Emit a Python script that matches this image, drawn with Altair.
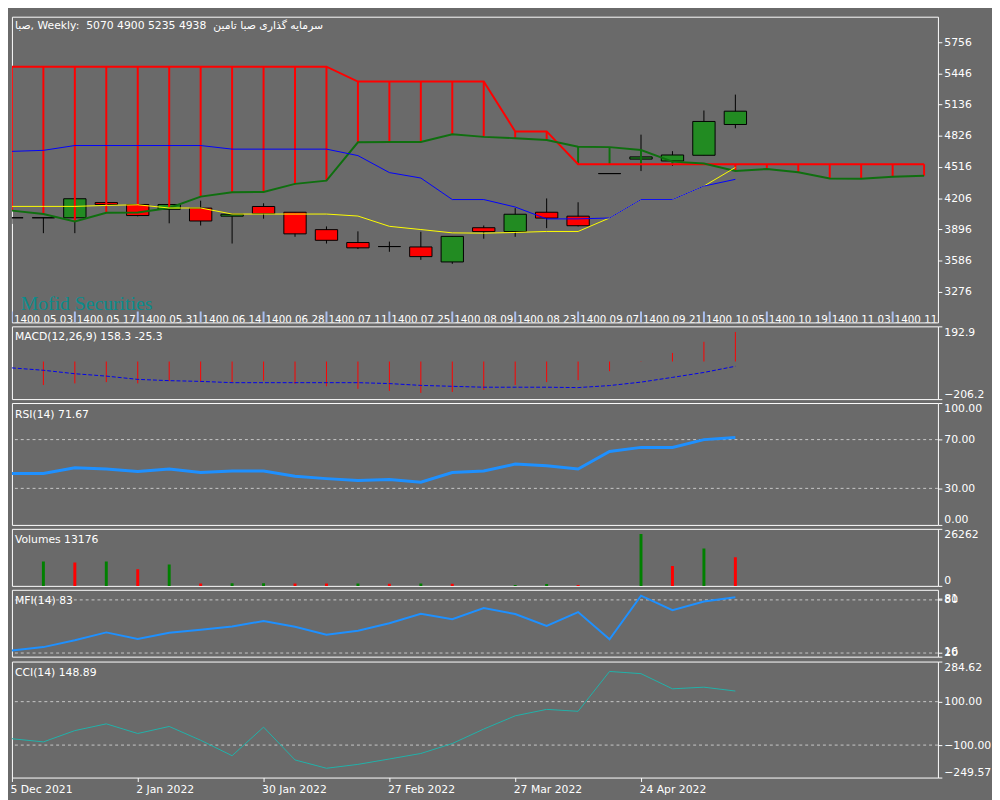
import altair as alt
import pandas as pd

# ---------------- data ----------------
bar_index = list(range(24))
opens  = [4011, 4011, 4011, 4162, 4143, 4095, 4107, 4027, 4123, 4066, 3893, 3765, 3725, 3721, 3572, 3912, 3874, 4066, 4027, 4450, 4594, 4575, 4632, 4938]
highs  = [4011, 4011, 4200, 4162, 4143, 4143, 4181, 4046, 4155, 4066, 3925, 3876, 3774, 3872, 3826, 3934, 4107, 4203, 4165, 4450, 4837, 4673, 5077, 5235]
lows   = [3950, 3858, 3858, 4143, 4025, 3956, 3934, 3755, 4002, 3822, 3755, 3700, 3673, 3593, 3553, 3803, 3822, 3908, 3925, 4450, 4475, 4527, 4632, 4900]
closes = [4011, 4011, 4200, 4143, 4033, 4143, 3979, 4046, 4052, 3851, 3787, 3712, 3725, 3625, 3826, 3874, 4046, 4008, 3932, 4450, 4616, 4635, 4968, 5070]
tenkan = [4124, 4124, 4124, 4134, 4140, 4108, 4108, 4048, 4048, 4048, 4048, 4028, 3926, 3894, 3861, 3858, 3865, 3875, 3875, 4009, 4192, 4192, 4326, 4511]
kijun  = [4671, 4681, 4729, 4729, 4729, 4729, 4729, 4693, 4693, 4693, 4693, 4629, 4460, 4406, 4192, 4192, 4118, 4000, 4000, 4009, 4192, 4192, 4326, 4393]

cloud_index = list(range(30))
span_a = [4082, 4048, 3974, 4060, 4063, 4108, 4221, 4264, 4268, 4348, 4380, 4761, 4764, 4764, 4840,
          4815, 4802, 4783, 4716, 4713, 4684, 4569, 4550, 4476, 4495, 4463, 4402, 4398, 4418, 4428]
span_b = [5512, 5512, 5512, 5512, 5512, 5512, 5512, 5512, 5512, 5512, 5512, 5365, 5365, 5365, 5365,
          5365, 4869, 4869, 4543, 4543, 4543, 4543, 4543, 4543, 4543, 4543, 4543, 4543, 4543, 4543]

hist_index = list(range(1, 24))
macd_hist   = [-129, -120, -113, -120, -107, -111, -114, -105, -123, -136, -150, -161, -172, -167, -156, -129, -113, -102, -53, -2, 47, 108, 162]
macd_signal = [-35, -48, -67, -80, -98, -105, -109, -116, -116, -116, -116, -116, -121, -131, -136, -141, -141, -141, -143, -132, -113, -87, -60, -26]
rsi = [42.2, 42.2, 46.9, 45.9, 43.8, 45.9, 43.0, 44.3, 44.3, 40.0, 38.0, 36.4, 37.2, 35.0, 43.0, 44.3, 49.9, 48.5, 45.9, 60.2, 63.6, 63.6, 70.0, 71.67]
volumes = [0, 11250, 10800, 11250, 7650, 9900, 1100, 1200, 1250, 1150, 1050, 1150, 1000, 1100, 1000, 0, 450, 900, 450, 0, 23850, 9150, 17250, 13176]
mfi = [22.9, 26.7, 34.4, 43.3, 35.9, 42.9, 46.2, 50.0, 56.2, 49.6, 40.7, 45.1, 53.7, 64.4, 58.1, 70.7, 64.0, 50.7, 66.2, 35.6, 84.8, 68.4, 78.1, 83.0]
cci = [-70.7, -85.3, -33.3, -2.2, -46.7, -14.2, -77.8, -148.9, -17.3, -168.4, -206.7, -188.9, -164.0, -138.7, -92.9, -26.2, 34.7, 64.4, 55.6, 239.1, 228.9, 159.1, 166.7, 148.89]

price_ticks = [3276, 3586, 3896, 4206, 4516, 4826, 5136, 5446, 5756]
price_domain = [2971, 6009]
macd_domain = [-206.2, 192.9]
rsi_levels = [30, 70]
rsi_ticks = [0, 30, 70, 100]
vol_domain = [0, 26262]
mfi_domain = [15.9, 91.4]
mfi_levels = [20, 80]
mfi_ticks = [16, 20, 80, 81]
cci_domain = [-249.57, 284.62]
cci_levels = [-100, 100]
cci_ticks = [-249.57, -100, 100, 284.62]

shamsi_pos = [0, 2, 4, 6, 8, 10, 12, 14, 16, 18, 20, 22, 24, 26, 28]
shamsi_labels = ["1400 05 03", "1400 05 17", "1400 05 31", "1400 06 14", "1400 06 28", "1400 07 11",
                 "1400 07 25", "1400 08 09", "1400 08 23", "1400 09 07", "1400 09 21", "1400 10 05",
                 "1400 10 19", "1400 11 03", "1400 11 17"]
date_pos = [0, 4, 8, 12, 16, 20]
date_labels = ["5 Dec 2021", "2 Jan 2022", "30 Jan 2022", "27 Feb 2022", "27 Mar 2022", "24 Apr 2022"]

NB = "\u00a0"
title_main = "صبا, Weekly:" + NB + " 5070 4900 5235 4938" + NB + " سرمایه گذاری صبا تامین"
title_macd = "MACD(12,26,9) 158.3 -25.3"
title_rsi = "RSI(14) 71.67"
title_vol = "Volumes 13176"
title_mfi = "MFI(14) 83"
title_cci = "CCI(14) 148.89"
watermark = "Mofid Securities"

# ---------------- tables ----------------
bars = pd.DataFrame({"k": bar_index, "open": opens, "high": highs, "low": lows, "close": closes,
                     "tenkan": tenkan, "kijun": kijun, "signal": macd_signal,
                     "rsi": rsi, "vol": volumes, "mfi": mfi, "cci": cci})
bars["up"] = bars["vol"] > bars["vol"].shift(1).fillna(0)
hist = pd.DataFrame({"k": hist_index, "hist": macd_hist})
cloud = pd.DataFrame({"k": cloud_index, "spanA": span_a, "spanB": span_b})
shamsi = pd.DataFrame({"k": shamsi_pos, "t": shamsi_labels})

# ---------------- style ----------------
BG = "#6a6a6a"
FONT = "DejaVu Sans"
RED = "#ff0000"
CANDLE_GREEN = "#228b22"
CLOUD_GREEN = "#0f6f0f"
VOL_GREEN = "#008000"
LINE_BLUE = "#1e90ff"
LEVEL = "#c8c8c8"
W = 942
XMAX = 29.44
H_MAIN = 311
xs = alt.Scale(domain=[0, XMAX], nice=False, zero=False)


def X(field="k", axis=None):
    return alt.X(f"{field}:Q", scale=xs, axis=axis, title=None)


def raxis(values, fmt):
    return alt.Axis(orient="right", values=values, format=fmt, title=None, labelFlush=True,
                    labelOverlap=False, labelBound=False)


def title_layer(text, y=11, size=11):
    return alt.Chart(pd.DataFrame({"t": [text]})).mark_text(
        align="left", baseline="middle", color="white", font=FONT, fontSize=size
    ).encode(x=alt.value(3), y=alt.value(y), text="t:N")


def levels_layer(levels, scale, axis):
    return alt.Chart(pd.DataFrame({"lv": levels})).mark_rule(
        color=LEVEL, strokeDash=[3, 3], strokeWidth=1
    ).encode(y=alt.Y("lv:Q", scale=scale, axis=axis, title=None))


# ---------------- main panel ----------------
ps = alt.Scale(domain=price_domain, nice=False, zero=False)
pax = alt.Axis(orient="right", values=price_ticks, format="d", title=None, labelFlush=False,
               labelOverlap=False)

base = alt.Chart(bars)
wicks = base.mark_rule(color="black", strokeWidth=1, clip=True).encode(
    x=X(), y=alt.Y("low:Q", scale=ps, axis=pax, title=None), y2="high:Q")
bodies = base.transform_calculate(
    x0="datum.k - 0.355", x1="datum.k + 0.355"
).mark_rect(stroke="black", strokeWidth=1, clip=True).encode(
    x=X("x0"), x2="x1:Q",
    y=alt.Y("open:Q", scale=ps, axis=pax, title=None), y2="close:Q",
    fill=alt.condition("datum.close > datum.open", alt.value(CANDLE_GREEN), alt.value(RED)))
hatch = alt.Chart(cloud).mark_rule(strokeWidth=2, clip=True).encode(
    x=X(), y=alt.Y("spanA:Q", scale=ps, axis=pax, title=None), y2="spanB:Q",
    color=alt.condition("datum.spanB >= datum.spanA", alt.value(RED), alt.value(CLOUD_GREEN)))
lineB = alt.Chart(cloud).mark_line(color=RED, strokeWidth=2, clip=True).encode(
    x=X(), y=alt.Y("spanB:Q", scale=ps, axis=pax, title=None))
lineA = alt.Chart(cloud).mark_line(color=CLOUD_GREEN, strokeWidth=2, clip=True).encode(
    x=X(), y=alt.Y("spanA:Q", scale=ps, axis=pax, title=None))
tk = base.mark_line(color="#ffff00", strokeWidth=1, clip=True).encode(
    x=X(), y=alt.Y("tenkan:Q", scale=ps, axis=pax, title=None))
kj = base.mark_line(color="#0000ff", strokeWidth=1, clip=True).encode(
    x=X(), y=alt.Y("kijun:Q", scale=ps, axis=pax, title=None))
sh_ticks = alt.Chart(shamsi).mark_rule(color="#a9bff0", strokeWidth=2, clip=True).encode(
    x=X(), y=alt.value(H_MAIN - 11), y2=alt.value(H_MAIN))
sh_text = alt.Chart(shamsi).mark_text(
    align="left", baseline="alphabetic", color="white", font=FONT, fontSize=10.5, dx=2, clip=True
).encode(x=X(), y=alt.value(H_MAIN + 1), text="t:N")
wm = alt.Chart(pd.DataFrame({"t": [watermark]})).mark_text(
    align="left", baseline="alphabetic", color="#0a8c8c", font="Liberation Serif", fontSize=20
).encode(x=alt.value(9), y=alt.value(H_MAIN - 13), text="t:N")

main = alt.layer(wicks, bodies, hatch, lineB, lineA, tk, kj, sh_ticks, sh_text, wm,
                 title_layer(title_main, y=9)).properties(width=W, height=H_MAIN)

# ---------------- MACD ----------------
ms = alt.Scale(domain=macd_domain, nice=False, zero=False)
max_ = raxis(macd_domain, ".1f")
macd_hist_l = alt.Chart(hist).transform_calculate(zero="0").mark_rule(
    color=RED, strokeWidth=1, clip=True).encode(
    x=X(), y=alt.Y("zero:Q", scale=ms, axis=max_, title=None), y2="hist:Q")
macd_sig_l = base.mark_line(color="#0000ee", strokeWidth=1, strokeDash=[4, 2], clip=True).encode(
    x=X(), y=alt.Y("signal:Q", scale=ms, axis=max_, title=None))
macd = alt.layer(macd_hist_l, macd_sig_l, title_layer(title_macd)).properties(width=W, height=74)

# ---------------- RSI ----------------
rs = alt.Scale(domain=[0, 100], nice=False, zero=False)
rax = raxis(rsi_ticks, ".2f")
rsi_l = base.mark_line(color=LINE_BLUE, strokeWidth=3, clip=True).encode(
    x=X(), y=alt.Y("rsi:Q", scale=rs, axis=rax, title=None))
rsi_c = alt.layer(levels_layer(rsi_levels, rs, rax), rsi_l, title_layer(title_rsi, y=12)).properties(
    width=W, height=124)

# ---------------- Volumes ----------------
vs = alt.Scale(domain=vol_domain, nice=False, zero=False)
vax = raxis(vol_domain, "d")
vol_l = base.transform_calculate(zero="0").mark_rule(strokeWidth=3, clip=True).encode(
    x=X(), y=alt.Y("zero:Q", scale=vs, axis=vax, title=None), y2="vol:Q",
    color=alt.condition("datum.up", alt.value(VOL_GREEN), alt.value(RED)))
vol_c = alt.layer(vol_l, title_layer(title_vol)).properties(width=W, height=58)

# ---------------- MFI ----------------
fs = alt.Scale(domain=mfi_domain, nice=False, zero=False)
fax = raxis(mfi_ticks, "d")
mfi_l = base.mark_line(color=LINE_BLUE, strokeWidth=2, clip=True).encode(
    x=X(), y=alt.Y("mfi:Q", scale=fs, axis=fax, title=None))
mfi_c = alt.layer(levels_layer(mfi_levels, fs, fax), mfi_l, title_layer(title_mfi)).properties(
    width=W, height=68)

# ---------------- CCI ----------------
cs = alt.Scale(domain=cci_domain, nice=False, zero=False)
cax = raxis(cci_ticks, ".2f")
label_array = "[" + ",".join(f"'{s}'" for s in date_labels) + "]"
pos_array = "[" + ",".join(str(p) for p in date_pos) + "]"
xax = alt.Axis(orient="bottom", values=date_pos, labelExpr=f"{label_array}[indexof({pos_array}, datum.value)]",
               labelAlign="left", labelOffset=-2, labelPadding=2, tickSize=4, labelFlush=False,
               labelOverlap=False, labelBound=False, title=None)
cci_l = base.mark_line(color="#20b2aa", strokeWidth=1, clip=True).encode(
    x=X(axis=xax), y=alt.Y("cci:Q", scale=cs, axis=cax, title=None))
cci_c = alt.layer(levels_layer(cci_levels, cs, cax), cci_l, title_layer(title_cci, y=12)).properties(
    width=W, height=118)

chart = alt.vconcat(main, macd, rsi_c, vol_c, mfi_c, cci_c, spacing=2).properties(
    padding={"left": 1, "top": 1, "right": 0, "bottom": 0}
).configure(background=BG).configure_view(
    fill=BG, stroke="white", strokeWidth=1
).configure_axis(
    labelColor="white", tickColor="white", domain=False, grid=False, labelFont=FONT,
    labelFontSize=11, tickSize=4, labelPadding=2
)

chart.save("out.html", embed_options={"renderer": "svg", "actions": False})
